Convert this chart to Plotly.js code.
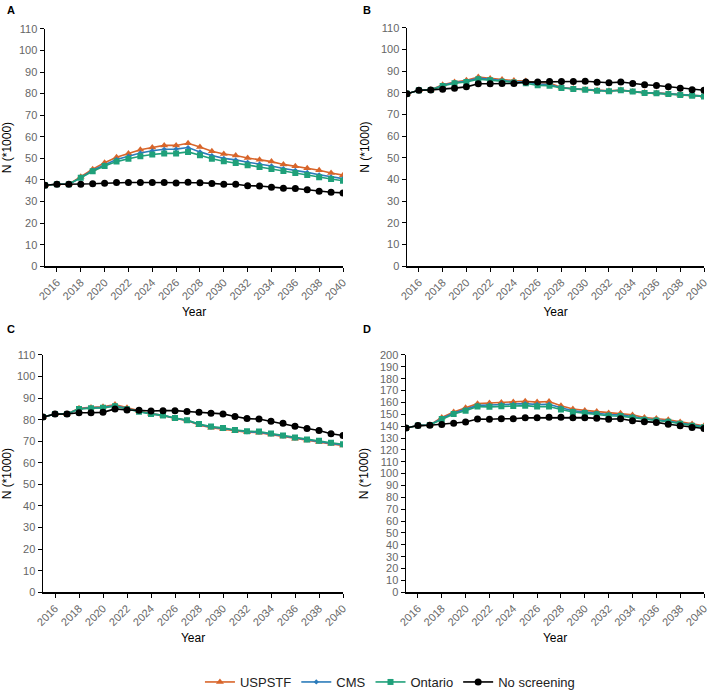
<!DOCTYPE html>
<html>
<head>
<meta charset="utf-8">
<script src="https://cdn.plot.ly/plotly-3.0.1.min.js"></script>
<style>html,body{margin:0;padding:0;background:#fff;}#chart{width:709px;height:697px;}</style>
</head>
<body>
<div id="chart"></div>
<script>
const years = [2015,2016,2017,2018,2019,2020,2021,2022,2023,2024,2025,2026,2027,2028,2029,2030,2031,2032,2033,2034,2035,2036,2037,2038,2039,2040];
const seriesNames = ["USPSTF", "CMS", "Ontario", "No screening"];
const panelLabels = ["A", "B", "C", "D"];

const aUSPSTF = [37.5,38,38,41.5,45,48,50.5,52.3,54,55,56,56,57,55.3,53.3,52,51.3,50.2,49.4,48.5,47.2,46.4,45.4,44.5,43.2,42.2];
const aCMS = [37.5,38,38,41,44.5,47,49.5,51,52.5,53.5,54.2,54.3,55,53,51.3,50,49.3,48.2,47.4,46.5,45.3,44.5,43.5,42.4,41.4,40.6];
const aOntario = [37.5,38,38,41,44,46.5,48.5,49.8,51,51.8,52.3,52.3,53,51.4,49.8,48.7,47.9,46.8,46,45.1,44.1,43.2,42.3,41.2,40.4,39.6];
const aNone = [37.5,38,38,38,38.2,38.5,38.8,38.8,38.8,38.8,38.8,38.6,38.9,38.7,38.4,38,38,37.3,37.2,36.6,36.2,36,35.4,34.8,34.3,34];

const bUSPSTF = [79.6,81.2,81.5,83.8,85,85.8,87.3,86.7,86.2,85.7,85.5,84.7,84.5,82.5,82,81.6,81.2,81,81.3,80.7,80.2,80,79.6,79.2,78.8,78.6];
const bCMS = [79.6,81.2,81.4,83.5,84.8,85.4,86.8,86.2,85.7,85.2,85,84.1,83.9,82.4,81.9,81.5,81.1,80.9,81.2,80.6,80.1,79.9,79.5,79.1,78.7,78.5];
const bOntario = [79.6,81.2,81.4,83.2,84.5,85,86.3,85.8,85.2,84.8,84.5,83.5,83.3,82.3,81.8,81.5,81,80.8,81.2,80.6,80,79.8,79.5,79,78.7,78.4];
const bNone = [79.6,81.2,81.4,81.7,82.2,82.8,84.2,84.2,84.4,84.4,85,85,85.3,85.3,85.3,85.4,84.9,84.7,85,84.3,83.8,83.4,82.8,82.2,81.5,81.2];

const cUSPSTF = [81.2,82.6,82.7,85.3,85.7,86,87,85.5,84,82.8,82,80.6,79.6,77.6,76.3,75.7,74.8,74.2,74,73.1,72.2,71.2,70.4,69.7,68.8,68.1];
const cCMS = [81.2,82.6,82.7,85.1,85.5,85.7,86.6,85.1,83.8,82.7,82,80.7,79.7,77.8,76.5,75.9,75,74.4,74.2,73.3,72.4,71.4,70.6,69.9,69,68.3];
const cOntario = [81.2,82.6,82.7,85,85.3,85.5,86.2,84.8,83.7,82.7,82,80.8,79.8,78,76.8,76.2,75.2,74.7,74.5,73.6,72.7,71.7,70.8,70.2,69.3,68.6];
const cNone = [81.2,82.6,82.7,83.2,83.2,83.4,85,84.5,84.4,84,84.2,84.2,83.8,83.5,83,82.7,81.5,80.5,80.3,79.3,78.3,77,75.9,75,73.5,72.7];

const dUSPSTF = [138.5,140.5,141,147.3,152,155.5,159,159.5,160,160.3,161,160.3,160.8,157.3,154.5,153.3,152.3,151.2,150.8,149.5,147.3,146.5,145.4,143.6,141.8,140.3];
const dCMS = [138.5,140.5,141,146.5,151,154,157.5,157.8,158.3,158.5,159,158.3,158.5,155.5,153,152,151,149.8,149.5,148.2,146.2,145.5,144.4,142.6,140.9,139.6];
const dOntario = [138.5,140.5,141,146,150.3,153,156.5,156.3,156.8,157,157.3,156.5,156.6,154,152,151,150,148.8,148.5,147.2,145.5,144.8,143.7,142,140.3,139];
const dNone = [138.5,140.5,140.8,141.5,142.5,143.5,146,145.8,146.3,146.3,147,147,147.5,147.5,147.2,147.2,146.6,145.8,146.3,144.6,143.8,143.2,141.6,140.3,138.8,138];

const yMax = [110, 110, 110, 200];

const panels = [
  [aUSPSTF, aCMS, aOntario, aNone],
  [bUSPSTF, bCMS, bOntario, bNone],
  [cUSPSTF, cCMS, cOntario, cNone],
  [dUSPSTF, dCMS, dOntario, dNone]
];

const styles = [
  {color: "#D8652A", symbol: "triangle-up", size: 7},
  {color: "#2B7BBA", symbol: "diamond", size: 4},
  {color: "#1FA07A", symbol: "square", size: 6},
  {color: "#000000", symbol: "circle", size: 7}
];

const W = 709, H = 697;
// pixel boxes [x0, x1, yTop, yBottom]
const boxes = [
  [45, 343, 29, 267],
  [407, 704, 28, 267],
  [43, 343, 356, 594],
  [406, 704, 356, 594]
];

const traces = [];
panels.forEach((series, p) => {
  const ax = p === 0 ? "" : String(p + 1);
  series.forEach((vals, s) => {
    const st = styles[s];
    traces.push({
      type: "scatter", mode: "lines+markers",
      x: years, y: vals, name: seriesNames[s],
      xaxis: "x" + ax, yaxis: "y" + ax,
      line: {color: st.color, width: 1.6},
      marker: {color: st.color, symbol: st.symbol, size: st.size},
      showlegend: p === 0,
      legendgroup: seriesNames[s]
    });
  });
});

const layout = {
  width: W, height: H,
  margin: {l: 0, r: 0, t: 0, b: 0},
  paper_bgcolor: "#fff", plot_bgcolor: "#fff",
  font: {family: "Liberation Sans, Arial, sans-serif", color: "#000"},
  showlegend: true,
  legend: {orientation: "h", x: 0.55, xanchor: "center", y: 1 - 684 / H, yanchor: "middle",
           font: {size: 13, color: "#222"}, itemwidth: 30, traceorder: "normal"},
  annotations: []
};

boxes.forEach((b, p) => {
  const ax = p === 0 ? "" : String(p + 1);
  layout["xaxis" + ax] = {
    domain: [b[0] / W, b[1] / W],
    anchor: "y" + ax,
    range: [2015, 2040],
    tick0: 2016, dtick: 2,
    tickangle: -45,
    ticklabeloverflow: "allow",
    showgrid: false, zeroline: false,
    showline: true, linecolor: "#000", linewidth: 1.5,
    ticks: "outside", ticklen: 4, tickcolor: "#000",
    tickfont: {size: 11, color: "#666"},
    title: {text: "Year", font: {size: 12, color: "#000"}, standoff: 6}
  };
  layout["yaxis" + ax] = {
    domain: [1 - b[3] / H, 1 - b[2] / H],
    anchor: "x" + ax,
    range: [0, yMax[p]],
    dtick: 10,
    showgrid: false, zeroline: false,
    showline: true, linecolor: "#000", linewidth: 1.5,
    ticks: "outside", ticklen: 4, tickcolor: "#000",
    tickfont: {size: 11, color: "#666"},
    title: {text: "N (*1000)", font: {size: 12, color: "#000"}, standoff: 8}
  };
  layout.annotations.push({
    text: "<b>" + panelLabels[p] + "</b>", xref: "paper", yref: "paper",
    x: (p % 2 === 0 ? 5 : 361) / W, y: 1 - (p < 2 ? 10 : 330) / H,
    xanchor: "left", yanchor: "middle", showarrow: false,
    font: {size: 11, color: "#000"}
  });
});

Plotly.newPlot("chart", traces, layout, {displayModeBar: false, staticPlot: true});
</script>
</body>
</html>
